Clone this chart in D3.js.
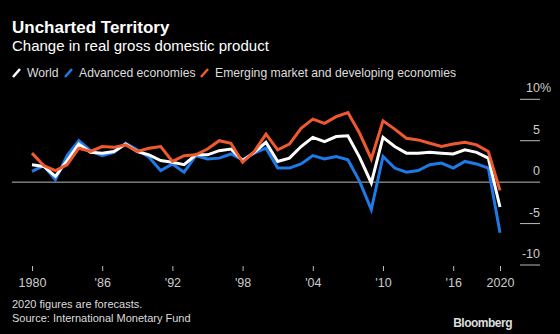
<html>
<head>
<script src="https://cdn.jsdelivr.net/npm/d3@7"></script>
<style>
  body { margin: 0; background: #000; }
  text { font-family: 'Liberation Sans', Arial, sans-serif; }
</style>
</head>
<body>
<svg width="560" height="334"></svg>
<script>
// data (IMF, % change in real GDP)
var years = d3.range(1980, 2021);
var world = [2.1, 1.9, 0.7, 2.6, 4.6, 3.6, 3.5, 3.7, 4.6, 3.7, 3.3, 2.6, 2.4, 2.1, 3.3, 3.3, 3.8, 4.0, 2.6, 3.6,
             4.8, 2.5, 2.9, 4.3, 5.4, 4.9, 5.5, 5.6, 3.0, -0.1, 5.4, 4.3, 3.5, 3.5, 3.6, 3.5, 3.4, 3.9, 3.6, 2.9, -3.0];
var advanced = [1.3, 2.0, 0.3, 3.2, 5.0, 3.8, 3.2, 3.6, 4.7, 3.9, 3.0, 1.4, 2.2, 1.2, 3.2, 2.8, 2.9, 3.4, 2.7, 3.5,
                4.1, 1.7, 1.7, 2.2, 3.2, 2.8, 3.1, 2.7, 0.1, -3.3, 3.1, 1.7, 1.2, 1.4, 2.1, 2.3, 1.7, 2.5, 2.2, 1.7, -6.1];
var emerging = [3.5, 2.0, 1.4, 2.1, 4.1, 3.7, 4.3, 4.2, 4.5, 3.7, 4.1, 4.3, 2.5, 3.2, 3.3, 4.0, 5.0, 4.7, 2.4, 3.7,
                5.8, 3.9, 4.6, 6.5, 7.6, 7.1, 7.9, 8.4, 5.9, 2.8, 7.4, 6.4, 5.3, 5.1, 4.7, 4.3, 4.6, 4.8, 4.5, 3.7, -1.0];
var xTicks = [1980, 1986, 1992, 1998, 2004, 2010, 2016, 2020];
var yTicks = [10, 5, 0, -5, -10];

var seriesNames = ['World', 'Advanced economies', 'Emerging market and developing economies'];
var colors = ['#ffffff', '#1e7ae6', '#ee5a2c'];

var svg = d3.select('svg');
svg.append('rect').attr('width', 560).attr('height', 334).attr('fill', '#000');

var x = d3.scaleLinear().domain([1980, 2020]).range([32, 500]);
var y = d3.scaleLinear().domain([-10, 10]).range([265, 99.3]);

// titles
svg.append('text').attr('x', 12).attr('y', 33)
  .style('font-size', '17px').style('font-weight', 'bold').attr('fill', '#fff')
  .text('Uncharted Territory');
svg.append('text').attr('x', 12).attr('y', 51)
  .style('font-size', '15px').attr('fill', '#fff')
  .text('Change in real gross domestic product');

// legend
var legendX = [12, 64, 200];
var legend = svg.append('g').selectAll('g')
  .data(seriesNames)
  .enter()
  .append('g')
  .attr('transform', function (d, i) { return 'translate(' + legendX[i] + ',0)'; });
legend.append('line')
  .attr('x1', 1).attr('y1', 77).attr('x2', 8).attr('y2', 69)
  .attr('stroke', function (d, i) { return colors[i]; })
  .attr('stroke-width', 2.5);
legend.append('text')
  .attr('x', 15).attr('y', 77)
  .style('font-size', '12.2px').attr('fill', '#ddd')
  .text(function (d) { return d; });

// y grid ticks on the right
var yAxis = svg.append('g');
yAxis.selectAll('line')
  .data(yTicks.filter(function (d) { return d !== 0; }))
  .enter()
  .append('line')
  .attr('x1', 520).attr('x2', 540)
  .attr('y1', function (d) { return y(d); })
  .attr('y2', function (d) { return y(d); })
  .attr('stroke', '#bbb').attr('stroke-width', 1);
yAxis.selectAll('text')
  .data(yTicks)
  .enter()
  .append('text')
  .attr('x', 540)
  .attr('y', function (d) { return y(d) - 7; })
  .attr('text-anchor', 'end')
  .style('font-size', '12.5px').attr('fill', '#ccc')
  .text(function (d) { return d; });
yAxis.append('text')
  .attr('x', 540).attr('y', y(10) - 7)
  .style('font-size', '12.5px').attr('fill', '#ccc')
  .text('%');

// zero line
svg.append('line')
  .attr('x1', 12).attr('x2', 540)
  .attr('y1', y(0)).attr('y2', y(0))
  .attr('stroke', '#bbb').attr('stroke-width', 1);

// x axis
var xAxis = svg.append('g')
  .attr('transform', 'translate(0,266)')
  .call(d3.axisBottom(x)
    .tickValues(xTicks)
    .tickSize(5)
    .tickFormat(function (d) {
      if (d === 1980 || d === 2020) return d;
      return "'" + String(d).slice(2);
    }));
xAxis.select('.domain').remove();
xAxis.selectAll('.tick line').attr('stroke', '#bbb');
xAxis.selectAll('.tick text')
  .attr('y', 12)
  .attr('fill', '#ccc')
  .style('font-family', "'Liberation Sans', Arial, sans-serif")
  .style('font-size', '12.5px');

// lines
var line = d3.line()
  .x(function (d) { return x(d[0]); })
  .y(function (d) { return y(d[1]); });

var allSeries = [advanced, world, emerging];
var seriesColors = [colors[1], colors[0], colors[2]];
svg.append('g').selectAll('path')
  .data(allSeries)
  .enter()
  .append('path')
  .attr('d', function (s) { return line(years.map(function (yr, i) { return [yr, s[i]]; })); })
  .attr('fill', 'none')
  .attr('stroke', function (d, i) { return seriesColors[i]; })
  .attr('stroke-width', 3)
  .attr('stroke-linejoin', 'miter');

// footer
svg.append('text').attr('x', 12).attr('y', 308)
  .style('font-size', '11px').attr('fill', '#ddd')
  .text('2020 figures are forecasts.');
svg.append('text').attr('x', 12).attr('y', 322)
  .style('font-size', '11px').attr('fill', '#ddd')
  .text('Source: International Monetary Fund');
svg.append('text').attr('x', 512).attr('y', 327)
  .attr('text-anchor', 'end')
  .style('font-size', '12px').style('font-weight', 'bold')
  .style('letter-spacing', '-0.5px')
  .attr('fill', '#ddd')
  .text('Bloomberg');
</script>
</body>
</html>
